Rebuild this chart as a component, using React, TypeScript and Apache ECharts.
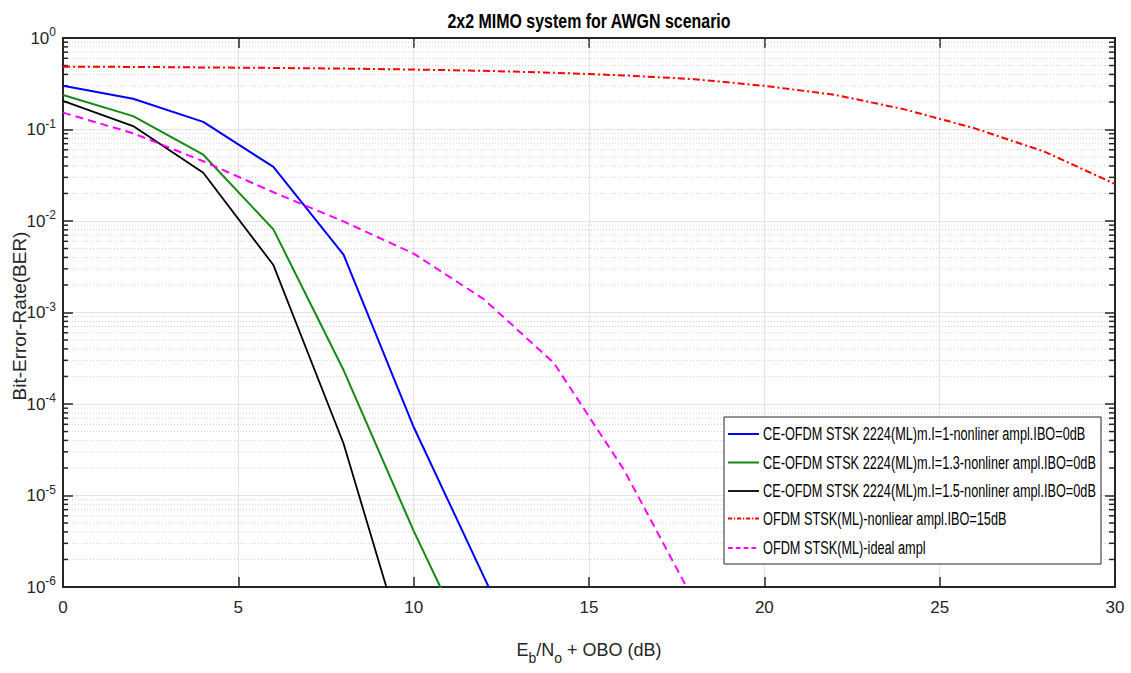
import React, { useEffect, useRef } from "react";
import * as echarts from "echarts";

const snr = [0, 2, 4, 6, 8, 10, 12, 14, 16, 18, 20, 22, 24, 26, 28, 30];
const berCe1 = [0.3, 0.217, 0.121, 0.039, 0.0043, 5.6e-5, 1.3e-6, 3e-8];
const berCe13 = [0.238, 0.14, 0.053, 0.0081, 2.35e-4, 4.1e-6, 1e-7];
const berCe15 = [0.206, 0.109, 0.0337, 0.0033, 3.7e-5, 1e-7];
const berOfdmNl = [0.486, 0.483, 0.477, 0.471, 0.463, 0.452, 0.438, 0.417, 0.39, 0.355, 0.3, 0.24, 0.166, 0.103, 0.057, 0.0254];
const berOfdmIdeal = [0.153, 0.091, 0.045, 0.0206, 0.0099, 0.0044, 0.0014, 2.8e-4, 1.9e-5, 7e-7];

const seriesNames = [
  "CE-OFDM STSK 2224(ML)m.I=1-nonliner ampl.IBO=0dB",
  "CE-OFDM STSK 2224(ML)m.I=1.3-nonliner ampl.IBO=0dB",
  "CE-OFDM STSK 2224(ML)m.I=1.5-nonliner ampl.IBO=0dB",
  "OFDM STSK(ML)-nonliear ampl.IBO=15dB",
  "OFDM STSK(ML)-ideal ampl",
];
const seriesColors = ["#0000ff", "#138a13", "#000000", "#ff0000", "#ff00ff"];
const seriesDash: any[] = ["solid", "solid", "solid", [7, 3, 2, 3], [8, 5]];
const seriesWidth = [2, 2, 1.8, 2, 2];
const titleText = "2x2 MIMO system for AWGN scenario";
const yName = "Bit-Error-Rate(BER)";
const decades = [-6, -5, -4, -3, -2, -1];
const minorMantissas = [2, 3, 4, 5, 6, 7, 8, 9];

const FONT = "'Liberation Sans', Arial, sans-serif";

function pair(ys: number[]) {
  return ys.map((y, i) => [snr[i], y]);
}

function measure(text: string, font: string) {
  const c = document.createElement("canvas").getContext("2d")!;
  c.font = font;
  return c.measureText(text).width;
}

export default function App() {
  const ref = useRef<HTMLDivElement>(null);
  useEffect(() => {
    document.body.style.margin = "0";
    const chart = echarts.init(ref.current!, null, { renderer: "svg" });
    const minorVals: number[][] = [];
    decades.forEach((d) => minorMantissas.forEach((m) => minorVals.push([0, m * Math.pow(10, d)])));

    const yLabel = (v: number) => {
      const e = Math.round(Math.log10(v));
      return `{b|10}{s|${e}}`;
    };
    const axisCommon = {
      axisLine: { show: true, onZero: false, lineStyle: { color: "#262626", width: 2 } },
      axisTick: { show: true, inside: true, length: 10, lineStyle: { color: "#262626", width: 1.5 } },
    };

    const legFontSize = 18;
    const legFont = `${legFontSize}px 'Liberation Sans', Arial, sans-serif`;
    const longest = Math.max(...seriesNames.map((n) => measure(n, legFont)));
    const legScale = 333 / longest;
    const rowY = [17, 45.5, 74, 101.5, 131];
    const legendChildren: any[] = [
      {
        type: "rect",
        z: 100,
        shape: { x: 0, y: 0, width: 377, height: 147 },
        style: { fill: "#fff", stroke: "#262626", lineWidth: 1 },
      },
    ];
    seriesNames.forEach((n, i) => {
      const dash = seriesDash[i];
      legendChildren.push({
        type: "line",
        z: 101,
        shape: { x1: 4, y1: rowY[i], x2: 35, y2: rowY[i] },
        style: {
          stroke: seriesColors[i],
          lineWidth: seriesWidth[i],
          lineDash: Array.isArray(dash) ? dash.map((d: number) => d * 0.6) : null,
        },
      });
      legendChildren.push({
        type: "text",
        z: 101,
        x: 39,
        y: rowY[i],
        scaleX: legScale,
        style: {
          text: n,
          fontFamily: FONT,
          fontSize: legFontSize,
          fill: "#000",
          align: "left",
          verticalAlign: "middle",
        },
      });
    });

    const titleFont = `bold 21px 'Liberation Sans', Arial, sans-serif`;
    const titleScale = 284 / measure(titleText, titleFont);

    chart.setOption({
      animation: false,
      backgroundColor: "#fff",
      textStyle: { fontFamily: FONT },
      grid: { left: 63, right: 16, top: 38, bottom: 86, containLabel: false, outerBoundsMode: "none" },
      graphic: [
        {
          type: "text",
          x: 589,
          y: 21,
          scaleX: titleScale,
          style: {
            text: titleText,
            align: "center",
            verticalAlign: "middle",
            fontFamily: FONT,
            fontSize: 21,
            fontWeight: "bold",
            fill: "#000",
          },
        },
        {
          type: "text",
          x: 19,
          y: 316,
          rotation: Math.PI / 2,
          style: {
            text: yName,
            align: "center",
            verticalAlign: "middle",
            fontFamily: FONT,
            fontSize: 19,
            fill: "#262626",
          },
        },
        {
          type: "group",
          x: 724,
          y: 417,
          z: 100,
          children: legendChildren,
        },
      ],
      xAxis: [
        {
          type: "value",
          min: 0,
          max: 30,
          interval: 5,
          position: "bottom",
          ...axisCommon,
          axisLabel: { fontFamily: FONT, fontSize: 17, color: "#262626", margin: 12 },
          splitLine: { show: true, lineStyle: { color: "#e3e3e3", width: 1 } },
          name: "{n|E}{sub|b}{n|/N}{sub|o}{n| + OBO (dB)}",
          nameLocation: "middle",
          nameGap: 48,
          nameTextStyle: {
            rich: {
              n: { fontFamily: FONT, fontSize: 18, color: "#262626" },
              sub: { fontFamily: FONT, fontSize: 14, color: "#262626", padding: [16, 0, 0, 0] },
            },
          },
        },
        {
          type: "value",
          min: 0,
          max: 30,
          interval: 5,
          position: "top",
          ...axisCommon,
          axisLabel: { show: false },
          splitLine: { show: false },
        },
      ],
      yAxis: [
        {
          type: "log",
          logBase: 10,
          min: 1e-6,
          max: 1,
          splitNumber: 6,
          position: "left",
          ...axisCommon,
          axisLabel: {
            formatter: yLabel,
            margin: 7,
            rich: {
              b: { fontFamily: FONT, fontSize: 17, color: "#262626" },
              s: { fontFamily: FONT, fontSize: 12, color: "#262626", padding: [0, 0, 12, 0] },
            },
          },
          splitLine: { show: true, lineStyle: { color: "#e3e3e3", width: 1 } },
        },
        {
          type: "log",
          logBase: 10,
          min: 1e-6,
          max: 1,
          splitNumber: 6,
          position: "right",
          ...axisCommon,
          axisLabel: { show: false },
          splitLine: { show: false },
        },
      ],
      series: [
        {
          name: "minor",
          type: "custom",
          data: minorVals,
          silent: true,
          z: 1,
          renderItem: (params: any, api: any) => {
            const v = api.value(1);
            const l = api.coord([0, v]);
            const r = api.coord([30, v]);
            return {
              type: "group",
              children: [
                {
                  type: "line",
                  shape: { x1: l[0], y1: l[1], x2: r[0], y2: r[1] },
                  style: { stroke: "#cfcfcf", lineWidth: 1, lineDash: [1, 2] },
                },
                {
                  type: "line",
                  shape: { x1: l[0], y1: l[1], x2: l[0] + 5, y2: l[1] },
                  style: { stroke: "#262626", lineWidth: 1.5 },
                },
                {
                  type: "line",
                  shape: { x1: r[0] - 6, y1: r[1], x2: r[0], y2: r[1] },
                  style: { stroke: "#262626", lineWidth: 1.5 },
                },
              ],
            };
          },
        },
        ...[berCe1, berCe13, berCe15, berOfdmNl, berOfdmIdeal].map((d, i) => ({
          name: seriesNames[i],
          type: "line",
          data: pair(d),
          symbol: "none",
          showSymbol: false,
          clip: true,
          lineStyle: { color: seriesColors[i], width: seriesWidth[i], type: seriesDash[i] },
          itemStyle: { color: seriesColors[i] },
          z: 5,
        })),
      ],
    });
    return () => chart.dispose();
  }, []);
  return <div ref={ref} style={{ width: 1131, height: 673 }} />;
}
